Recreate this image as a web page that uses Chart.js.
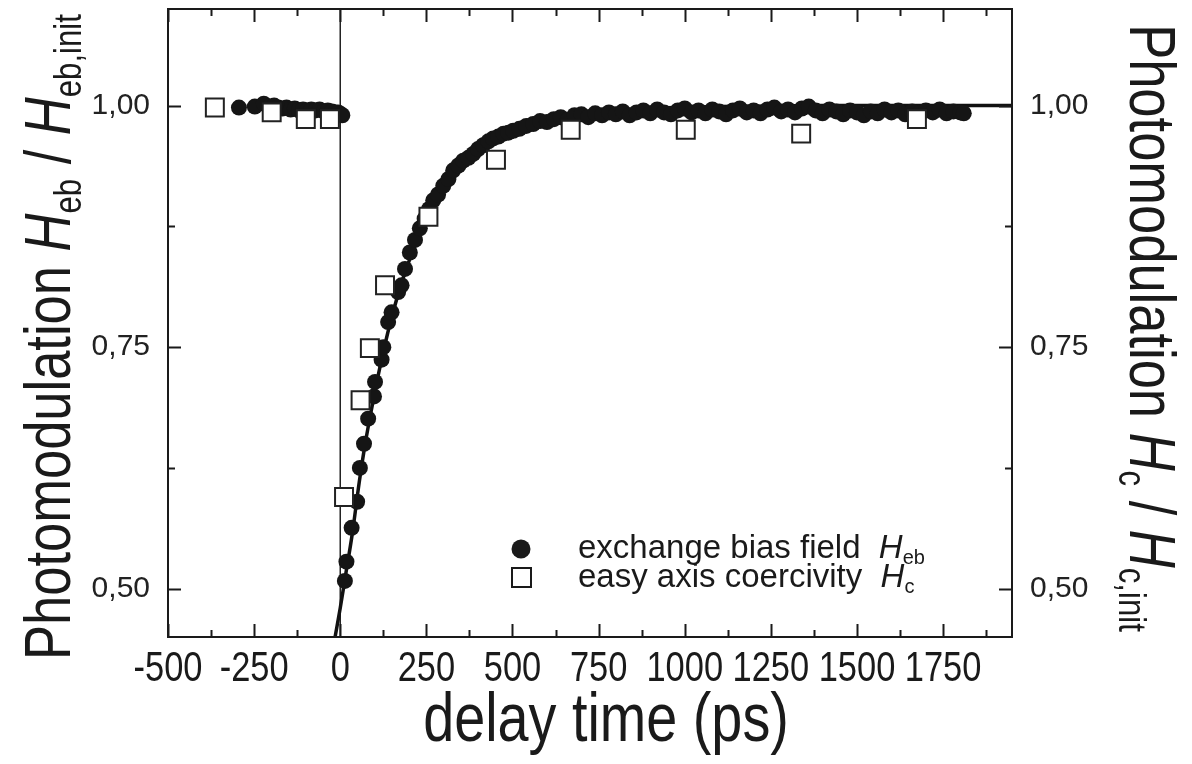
<!DOCTYPE html>
<html>
<head>
<meta charset="utf-8">
<script src="https://cdn.jsdelivr.net/npm/chart.js@4.4.1/dist/chart.umd.min.js"></script>
<style>
  html, body { margin: 0; padding: 0; background: #fff; }
  #wrap { width: 1192px; height: 764px; }
</style>
</head>
<body>
<div id="wrap"><canvas id="chart" width="1192" height="764"></canvas></div>
<script>
// exchange bias field H_eb (filled circles), delay time in ps
const ebTime = [-294, -248, -222, -205, -192, -180, -168, -156, -144, -132, -120, -108, -96, -84, -72, -60, -48, -36, -24, -14, -6, 2, 6,
  13.5, 18, 33, 49, 57, 69, 81, 98, 101, 120, 125, 139, 149, 168, 178, 188, 202, 217, 231, 245, 258, 270, 284, 299, 314, 328, 343, 357,
  372, 386, 400, 415, 430, 444, 459, 474, 488, 502,
  520, 540, 560, 580, 600, 620, 640, 660, 680, 700, 720, 740, 760, 780, 800, 820, 840, 860, 880, 900, 920, 940, 960, 980,
  1000, 1020, 1040, 1060, 1080, 1100, 1120, 1140, 1160, 1180, 1200, 1220, 1240, 1260, 1280, 1300, 1320, 1340, 1360, 1380,
  1400, 1420, 1440, 1460, 1480, 1500, 1520, 1540, 1560, 1580, 1600, 1620, 1640, 1660, 1680, 1700, 1720, 1740, 1760, 1780, 1800, 1810];
const ebValue = [0.998, 0.999, 1.002, 0.999, 1.000, 0.998, 0.997, 0.998, 0.996, 0.997, 0.995, 0.996, 0.995, 0.996, 0.995, 0.996, 0.994, 0.995, 0.994, 0.993, 0.993, 0.991, 0.990,
  0.508, 0.528, 0.563, 0.590, 0.625, 0.650, 0.676, 0.699, 0.714, 0.737, 0.750, 0.776, 0.786, 0.807, 0.814, 0.831, 0.848, 0.861, 0.873, 0.883, 0.893, 0.902, 0.908, 0.917, 0.924, 0.933, 0.938, 0.943,
  0.946, 0.950, 0.955, 0.959, 0.963, 0.966, 0.968, 0.971, 0.972, 0.974,
  0.976, 0.979, 0.981, 0.984, 0.983, 0.986, 0.988, 0.985, 0.990, 0.991, 0.988, 0.992, 0.990, 0.993, 0.991, 0.994, 0.990, 0.993, 0.995, 0.992, 0.996, 0.993, 0.991, 0.995,
  0.997, 0.993, 0.995, 0.992, 0.996, 0.994, 0.991, 0.995, 0.997, 0.993, 0.995, 0.992, 0.996, 0.998, 0.994, 0.996, 0.993, 0.997, 0.999, 0.995,
  0.992, 0.996, 0.994, 0.991, 0.995, 0.993, 0.990, 0.994, 0.992, 0.996, 0.993, 0.995, 0.991, 0.994, 0.992, 0.995, 0.993, 0.996, 0.992, 0.994, 0.993, 0.992];

// easy axis coercivity H_c (open squares)
const hcTime = [-364, -199, -100, -30, 11, 59, 86, 130, 256, 452, 669, 1003, 1338, 1674];
const hcValue = [0.998, 0.993, 0.986, 0.986, 0.595, 0.695, 0.749, 0.814, 0.885, 0.944, 0.975, 0.975, 0.971, 0.986];

// fitted recovery curve
const fitTime = [-15, 0, 15, 35, 55, 70, 85, 100, 125, 150, 183, 215, 251, 290, 330, 380, 430, 480, 560, 650, 760, 900, 1100, 1400, 1950];
const fitValue = [0.45, 0.48, 0.513, 0.557, 0.61, 0.645, 0.675, 0.703, 0.745, 0.782, 0.822, 0.853, 0.881, 0.906, 0.926, 0.945, 0.959, 0.970, 0.981, 0.988, 0.993, 0.997, 0.999, 1.0, 1.0];

// t = 0 marker
const zeroTime = [0, 0];
const zeroValue = [0.45, 1.10];

// axes
const xRange = [-500, 1950];
const yRange = [0.45, 1.10];
const xTicks = [-500, -250, 0, 250, 500, 750, 1000, 1250, 1500, 1750];
const yTicks = [0.50, 0.75, 1.00];
const xStep = 250;
const yStep = 0.25;

const SANS = "'Liberation Sans', Arial, Helvetica, sans-serif";
const NARROW = 0.82; // condensed look of the original lettering

const pts = (xs, ys) => xs.map((x, i) => ({ x: x, y: ys[i] }));
const comma = v => v.toFixed(2).replace('.', ',');

// draws a run of text pieces (italic / subscript) along x, squeezed by sx
function richWidth(ctx, segs, sx) {
  let w = 0;
  segs.forEach(s => {
    ctx.font = (s.italic ? 'italic ' : '') + s.size + 'px ' + SANS;
    w += ctx.measureText(s.t).width * sx;
  });
  return w;
}
function richDraw(ctx, segs, x, y, sx) {
  let cx = x;
  segs.forEach(s => {
    ctx.font = (s.italic ? 'italic ' : '') + s.size + 'px ' + SANS;
    ctx.save();
    ctx.translate(cx, y + (s.dy || 0));
    ctx.scale(sx, 1);
    ctx.fillText(s.t, 0, 0);
    ctx.restore();
    cx += ctx.measureText(s.t).width * sx;
  });
  return cx;
}

// frame, inward ticks, x labels, axis titles and legend
const decor = {
  id: 'decor',
  beforeDraw(chart) {
    const ctx = chart.ctx;
    ctx.save();
    ctx.fillStyle = '#fff';
    ctx.fillRect(0, 0, chart.width, chart.height);
    ctx.restore();
  },
  afterDraw(chart) {
    const ctx = chart.ctx;
    const a = chart.chartArea;
    const xs = chart.scales.x, ys = chart.scales.y;
    ctx.save();
    ctx.strokeStyle = '#1a1a1a';
    ctx.fillStyle = '#1a1a1a';
    ctx.lineWidth = 2;
    ctx.strokeRect(a.left, a.top, a.right - a.left, a.bottom - a.top);

    const major = 13, minor = 7;
    ctx.beginPath();
    xs.ticks.forEach(tk => {
      [tk.value, tk.value + xStep / 2].forEach((v, k) => {
        if (v < xRange[0] || v > xRange[1]) return;
        const px = Math.round(xs.getPixelForValue(v)) + 0.5;
        const len = k === 0 ? major : minor;
        ctx.moveTo(px, a.bottom); ctx.lineTo(px, a.bottom - len);
        ctx.moveTo(px, a.top); ctx.lineTo(px, a.top + len);
      });
    });
    ys.ticks.forEach(tk => {
      [tk.value, tk.value - yStep / 2].forEach((v, k) => {
        if (v < yRange[0] || v > yRange[1]) return;
        const py = Math.round(ys.getPixelForValue(v)) + 0.5;
        const len = k === 0 ? major : minor;
        ctx.moveTo(a.left, py); ctx.lineTo(a.left + len, py);
        ctx.moveTo(a.right, py); ctx.lineTo(a.right - len, py);
      });
    });
    ctx.stroke();

    // x tick labels (condensed)
    ctx.textBaseline = 'alphabetic';
    ctx.textAlign = 'left';
    xs.ticks.forEach(tk => {
      const s = [{ t: String(tk.value), size: 42 }];
      const w = richWidth(ctx, s, NARROW);
      richDraw(ctx, s, xs.getPixelForValue(tk.value) - w / 2, 681, NARROW);
    });

    // x title
    const xt = [{ t: 'delay time (ps)', size: 68 }];
    richDraw(ctx, xt, 606 - richWidth(ctx, xt, NARROW) / 2, 741, NARROW);

    // left title
    const lt = [
      { t: 'Photomodulation ', size: 64 },
      { t: 'H', size: 64, italic: true },
      { t: 'eb', size: 38, dy: 11 },
      { t: ' / ', size: 64 },
      { t: 'H', size: 64, italic: true },
      { t: 'eb,init', size: 38, dy: 11 }
    ];
    ctx.save();
    ctx.translate(70, 337);
    ctx.rotate(-Math.PI / 2);
    richDraw(ctx, lt, -richWidth(ctx, lt, NARROW) / 2, 0, NARROW);
    ctx.restore();

    // right title
    const rt = [
      { t: 'Photomodulation ', size: 64 },
      { t: 'H', size: 64, italic: true },
      { t: 'c', size: 38, dy: 11 },
      { t: ' / ', size: 64 },
      { t: 'H', size: 64, italic: true },
      { t: 'c,init', size: 38, dy: 11 }
    ];
    ctx.save();
    ctx.translate(1130, 328);
    ctx.rotate(Math.PI / 2);
    richDraw(ctx, rt, -richWidth(ctx, rt, NARROW) / 2, 0, NARROW);
    ctx.restore();

    // legend
    ctx.textBaseline = 'middle';
    ctx.beginPath();
    ctx.arc(521, 549, 9.5, 0, Math.PI * 2);
    ctx.fill();
    ctx.fillStyle = '#fff';
    ctx.fillRect(512, 568, 19, 19);
    ctx.strokeRect(512, 568, 19, 19);
    ctx.fillStyle = '#1a1a1a';
    let ex = richDraw(ctx, [{ t: 'exchange bias field  ', size: 33 }], 578, 549, 1);
    richDraw(ctx, [{ t: 'H', size: 33, italic: true }, { t: 'eb', size: 20, dy: 9 }], ex, 549, 1);
    ex = richDraw(ctx, [{ t: 'easy axis coercivity  ', size: 33 }], 578, 578, 1);
    richDraw(ctx, [{ t: 'H', size: 33, italic: true }, { t: 'c', size: 20, dy: 9 }], ex, 578, 1);
    ctx.restore();
  }
};

const noPad = s => { s.paddingTop = 0; s.paddingBottom = 0; s.paddingLeft = 0; s.paddingRight = 0; };

new Chart(document.getElementById('chart'), {
  type: 'scatter',
  data: {
    datasets: [
      {
        label: 'easy axis coercivity',
        data: pts(hcTime, hcValue),
        yAxisID: 'y2',
        pointStyle: 'rect',
        pointRadius: 12.7,
        backgroundColor: '#ffffff',
        borderColor: '#222',
        borderWidth: 2,
        order: 0
      },
      {
        label: 'exchange bias field',
        data: pts(ebTime, ebValue),
        pointStyle: 'circle',
        pointRadius: 8,
        backgroundColor: '#151515',
        borderWidth: 0,
        order: 1
      },
      {
        label: 'fit',
        type: 'line',
        data: pts(fitTime, fitValue),
        borderColor: '#111',
        borderWidth: 3.5,
        pointRadius: 0,
        cubicInterpolationMode: 'monotone',
        fill: false,
        order: 2
      },
      {
        label: 'zero',
        type: 'line',
        data: pts(zeroTime, zeroValue),
        borderColor: '#222',
        borderWidth: 1.5,
        pointRadius: 0,
        fill: false,
        order: 3
      }
    ]
  },
  options: {
    responsive: false,
    animation: false,
    layout: { autoPadding: false, padding: { top: 9, left: 0, right: 0, bottom: 0 } },
    plugins: { legend: { display: false }, tooltip: { enabled: false } },
    scales: {
      x: {
        type: 'linear',
        min: xRange[0], max: xRange[1],
        grid: { display: false, drawTicks: false },
        border: { display: false },
        ticks: { display: false },
        afterBuildTicks: s => { s.ticks = xTicks.map(v => ({ value: v })); },
        afterFit: s => { s.height = 127; noPad(s); }
      },
      y: {
        type: 'linear',
        position: 'left',
        min: yRange[0], max: yRange[1],
        grid: { display: false, drawTicks: false },
        border: { display: false },
        ticks: {
          padding: 18, color: '#222',
          font: { family: SANS, size: 30 },
          callback: v => comma(v)
        },
        afterBuildTicks: s => { s.ticks = yTicks.map(v => ({ value: v })); },
        afterFit: s => { s.width = 168; noPad(s); }
      },
      y2: {
        type: 'linear',
        position: 'right',
        min: yRange[0], max: yRange[1],
        grid: { display: false, drawTicks: false },
        border: { display: false },
        ticks: {
          padding: 18, color: '#222',
          font: { family: SANS, size: 30 },
          callback: v => comma(v)
        },
        afterBuildTicks: s => { s.ticks = yTicks.map(v => ({ value: v })); },
        afterFit: s => { s.width = 180; noPad(s); }
      }
    }
  },
  plugins: [decor]
});
</script>
</body>
</html>
